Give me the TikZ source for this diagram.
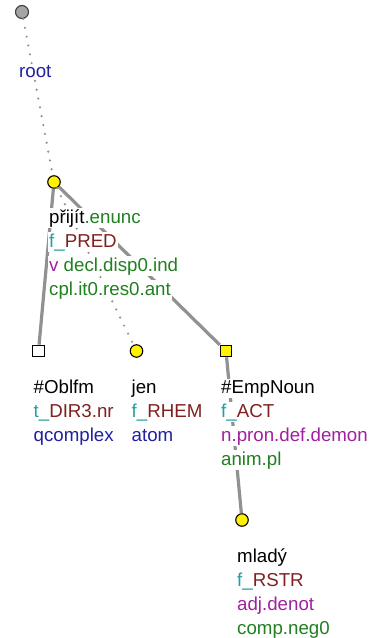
\documentclass[tikz,border=0pt]{standalone}
\usepackage{fontspec}
\setmainfont{Liberation Sans}
\usetikzlibrary{positioning}
\definecolor{tblue}{RGB}{32,32,160}
\definecolor{tgreen}{RGB}{32,128,32}
\definecolor{tteal}{RGB}{32,160,160}
\definecolor{tbrown}{RGB}{128,32,32}
\definecolor{tpurple}{RGB}{160,32,160}
\definecolor{edgegray}{RGB}{145,145,145}
\definecolor{rootgray}{RGB}{165,165,165}
\begin{document}
\begin{tikzpicture}[x=1pt, y=-1pt,
  font=\fontsize{18.7}{24}\selectfont,
  tnode/.style={circle, draw=black, line width=1.1pt, fill=yellow, inner sep=0pt, minimum size=12.5pt},
  rootnode/.style={tnode, fill=rootgray, draw=black!75, minimum size=13pt},
  qnode/.style={rectangle, draw=black, line width=1.1pt, fill=#1, inner sep=0pt, minimum size=11.5pt},
  qnode/.default=yellow,
  txt/.style={fill=white, inner sep=1pt, anchor=base west},
  edge/.style={draw=edgegray, line width=3.2pt},
  dotedge/.style={draw=edgegray, line width=2.4pt, line cap=round, dash pattern=on 0pt off 9pt}]
\fill[white] (0,0) rectangle (372,638);
\useasboundingbox (0,0) rectangle (372,638);
% --- tree nodes
\node[rootnode] (root) at (22,12) {};
\node[tnode] (pred) at (54,182) {};
\node[qnode=white] (oblfm) at (38.5,351) {};
\node[tnode] (jen) at (136.5,351) {};
\node[qnode] (emp) at (226,351) {};
\node[tnode] (mlady) at (242,520) {};
% --- edges
\draw[dotedge] (root) -- (pred);
\draw[edge] (pred) -- (oblfm);
\draw[dotedge] (pred) -- (jen);
\draw[edge] (pred) -- (emp);
\draw[edge] (emp) -- (mlady);
% --- labels
\node[txt, below=65pt of root.center, anchor=base west, xshift=-4pt] (root-1) {\textcolor{tblue}{root}};
\node[txt, below=41pt of pred.center, anchor=base west, xshift=-6pt] (pred-1) {přijít\textcolor{tgreen}{.enunc}};
\node[txt, below=24pt of pred-1.base west, anchor=base west] (pred-2) {\textcolor{tteal}{f\_}\textcolor{tbrown}{PRED}};
\node[txt, below=24pt of pred-2.base west, anchor=base west] (pred-3) {\textcolor{tpurple}{v} \textcolor{tgreen}{decl.disp0.ind}};
\node[txt, below=24pt of pred-3.base west, anchor=base west] (pred-4) {\textcolor{tgreen}{cpl.it0.res0.ant}};
\node[txt, below=42pt of oblfm.center, anchor=base west, xshift=-6pt] (oblfm-1) {\#Oblfm};
\node[txt, below=24pt of oblfm-1.base west, anchor=base west] (oblfm-2) {\textcolor{tteal}{t\_}\textcolor{tbrown}{DIR3.nr}};
\node[txt, below=24pt of oblfm-2.base west, anchor=base west] (oblfm-3) {\textcolor{tblue}{qcomplex}};
\node[txt, below=42pt of jen.center, anchor=base west, xshift=-6pt] (jen-1) {jen};
\node[txt, below=24pt of jen-1.base west, anchor=base west] (jen-2) {\textcolor{tteal}{f\_}\textcolor{tbrown}{RHEM}};
\node[txt, below=24pt of jen-2.base west, anchor=base west] (jen-3) {\textcolor{tblue}{atom}};
\node[txt, below=42pt of emp.center, anchor=base west, xshift=-6pt] (emp-1) {\#EmpNoun};
\node[txt, below=24pt of emp-1.base west, anchor=base west] (emp-2) {\textcolor{tteal}{f\_}\textcolor{tbrown}{ACT}};
\node[txt, below=24pt of emp-2.base west, anchor=base west] (emp-3) {\textcolor{tpurple}{n.pron.def.demon}};
\node[txt, below=24pt of emp-3.base west, anchor=base west] (emp-4) {\textcolor{tgreen}{anim.pl}};
\node[txt, below=42pt of mlady.center, anchor=base west, xshift=-6pt] (mlady-1) {mladý};
\node[txt, below=24pt of mlady-1.base west, anchor=base west] (mlady-2) {\textcolor{tteal}{f\_}\textcolor{tbrown}{RSTR}};
\node[txt, below=24pt of mlady-2.base west, anchor=base west] (mlady-3) {\textcolor{tpurple}{adj.denot}};
\node[txt, below=24pt of mlady-3.base west, anchor=base west] (mlady-4) {\textcolor{tgreen}{comp.neg0}};
\end{tikzpicture}
\end{document}
